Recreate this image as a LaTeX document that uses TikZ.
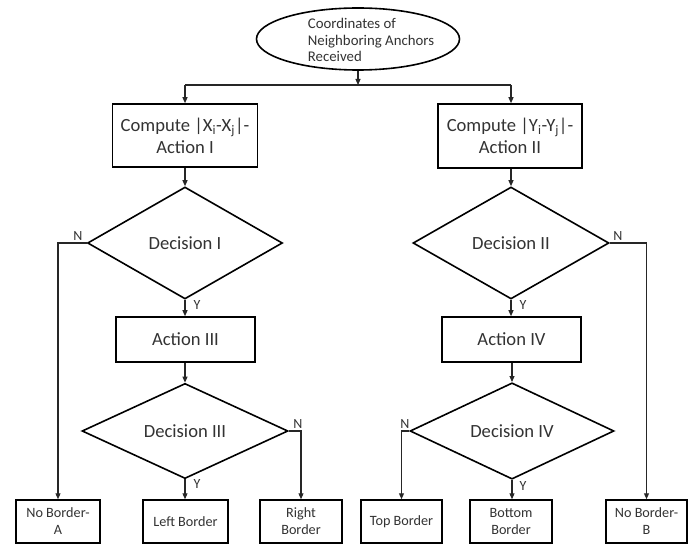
\documentclass[tikz,border=0pt]{standalone}
\usepackage{fontspec}
\setmainfont{Carlito}
\usetikzlibrary{shapes.geometric,arrows.meta}
\definecolor{txt}{HTML}{333333}
\begin{document}
\begin{tikzpicture}[x=1pt,y=-1pt,
  every node/.style={text=txt, inner sep=0pt},
  procbox/.style={draw=black, line width=1.6pt, rectangle, align=center, font=\fontsize{18.6}{22}\selectfont},
  endbox/.style={draw=black, line width=1.5pt, rectangle, align=center, minimum height=43pt, font=\fontsize{14.2}{17}\selectfont},
  decis/.style={draw=black, line width=1.6pt, diamond, font=\fontsize{18.6}{22}\selectfont},
  conn/.style={draw=black!85, line width=1.1pt},
  arr/.style={conn, -{Triangle[length=6pt,width=5pt]}},
  yn/.style={font=\fontsize{14}{16}\selectfont}
]
\useasboundingbox (0,0) rectangle (696,545);
\fill[white] (0,0) rectangle (696,545);

% start
\node[draw=black, line width=1.6pt, ellipse, minimum width=203pt, minimum height=62pt] (start) at (358,39) {};
\node[align=left, font=\fontsize{14.8}{16.7}\selectfont] (starttxt) at (371,40) {Coordinates of\\Neighboring Anchors\\Received};

\coordinate (jm) at (358,85);
\coordinate (jl) at (185,85);
\coordinate (jr) at (511,85);

% column nodes
\node[procbox, minimum width=145pt, minimum height=63pt] (a1) at (185,135.5) {Compute |X\textsubscript{i}-X\textsubscript{j}|-\\Action I};
\node[procbox, minimum width=144pt, minimum height=64pt] (a2) at (510,136) {Compute |Y\textsubscript{i}-Y\textsubscript{j}|-\\Action II};

\node[decis, minimum width=195pt, minimum height=112pt] (d1) at (185,243) {Decision I};
\node[decis, minimum width=196pt, minimum height=112pt] (d2) at (511,243) {Decision II};

\node[procbox, minimum width=139pt, minimum height=45pt] (a3) at (185.5,339.5) {Action III};
\node[procbox, minimum width=139pt, minimum height=45pt] (a4) at (511.5,339.5) {Action IV};

\node[decis, minimum width=206pt, minimum height=87pt] (d3) at (185,431) {Decision III};
\node[decis, minimum width=204pt, minimum height=87pt] (d4) at (512,431) {Decision IV};

% bottom boxes
\node[endbox, minimum width=84pt] (nba) at (58,521.5) {No Border-\\A};
\node[endbox, minimum width=85pt] (lb) at (185.5,521.5) {Left Border};
\node[endbox, minimum width=82pt] (rb) at (301,521.5) {Right\\Border};
\node[endbox, minimum width=81pt] (tb) at (401.5,521.5) {Top Border};
\node[endbox, minimum width=82pt] (bb) at (511,521.5) {Bottom\\Border};
\node[endbox, minimum width=81pt] (nbb) at (646.5,521.5) {No Border-\\B};

% connectors
\draw[arr] (start.south) -- (jm);
\draw[conn, line width=1.4pt] (jl) -- (jr);
\draw[arr] (jl) -- (a1.north -| jl);
\draw[arr] (jr) -- (a2.north -| jr);

\draw[arr] (a1.south -| d1.north) -- (d1.north);
\draw[arr] (a2.south -| d2.north) -- (d2.north);

\draw[arr] (d1.south) -- (a3.north -| d1.south);
\draw[arr] (d2.south) -- (a4.north -| d2.south);

\draw[arr] (a3.south -| d3.north) -- (d3.north);
\draw[arr] (a4.south -| d4.north) -- (d4.north);

\draw[arr] (d3.south) -- (lb.north -| d3.south);
\draw[arr] (d4.south) -- (bb.north -| d4.south);

\draw[arr] (d1.west) -| (nba.north);
\draw[arr] (d2.east) -| (nbb.north);
\draw[arr] (d3.east) -| (rb.north);
\draw[arr] (d4.west) -| (tb.north);

% labels
\node[yn] (n1) at (78,236) {N};
\node[yn] (y1) at (197,305) {Y};
\node[yn] (y3) at (197,484) {Y};
\node[yn] (n3) at (298,424) {N};
\node[yn] (n2) at (618,236) {N};
\node[yn] (y2) at (523,305) {Y};
\node[yn] (y4) at (523,486) {Y};
\node[yn] (n4) at (405,424) {N};
\end{tikzpicture}
\end{document}
